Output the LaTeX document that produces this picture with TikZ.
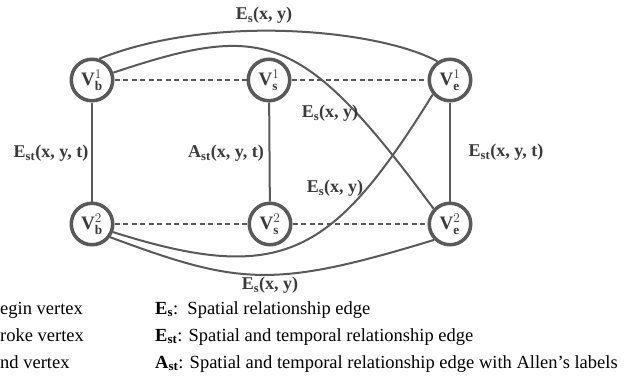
\documentclass[tikz,border=0pt]{standalone}
\usepackage{fix-cm}
\usepackage{fontspec}
\setmainfont{Liberation Serif}
\definecolor{linecol}{HTML}{595959}
\definecolor{labcol}{HTML}{3A3A3A}
\begin{document}
\begin{tikzpicture}[x=1pt,y=-1pt,
  vtx/.style={circle, draw=linecol, line width=3.5pt, minimum size=41.5pt, inner sep=0pt, fill=white,
              font=\fontsize{19}{22}\selectfont, text=labcol},
  edgeline/.style={draw=linecol, line width=2pt},
  dsh/.style={draw=linecol, line width=1.2pt, dash pattern=on 5pt off 3.5pt},
  lab/.style={font=\fontsize{18}{21}\selectfont\bfseries, text=labcol, inner sep=0pt},
  leg/.style={font=\fontsize{18.5}{22}\selectfont, anchor=base west, inner sep=0pt, text=black}]
\useasboundingbox (0,0) rectangle (637,378);

% vertices
\node[vtx] (Vb1) at (92,80)  {$\mathbf{V}^{1}_{\mathbf{b}}$};
\node[vtx] (Vs1) at (269,80) {$\mathbf{V}^{1}_{\mathbf{s}}$};
\node[vtx] (Ve1) at (450,80) {$\mathbf{V}^{1}_{\mathbf{e}}$};
\node[vtx] (Vb2) at (92,224)  {$\mathbf{V}^{2}_{\mathbf{b}}$};
\node[vtx] (Vs2) at (270,224) {$\mathbf{V}^{2}_{\mathbf{s}}$};
\node[vtx] (Ve2) at (450,224) {$\mathbf{V}^{2}_{\mathbf{e}}$};

% dashed links
\draw[dsh] (Vb1) -- (Vs1);
\draw[dsh] (Vs1) -- (Ve1);
\draw[dsh] (Vb2) -- (Vs2);
\draw[dsh] (Vs2) -- (Ve2);

% vertical links
\draw[edgeline] (Vb1) -- (Vb2);
\draw[edgeline] (Vs1) -- (Vs2);
\draw[edgeline] (Ve1) -- (Ve2);

% curved spatial edges
\draw[edgeline] (Vb1.71) .. controls (214,13) and (380,30) .. (Ve1.124);
\draw[edgeline] (Vb1.19) .. controls (265,22) and (302,31) .. (Ve2.137);
\draw[edgeline] (Ve1.220) .. controls (333,255) and (283,286) .. (Vb2.339);
\draw[edgeline] (Vb2.324) .. controls (239,285) and (273,289) .. (Ve2.225);

% edge labels
\node[lab] (lt)  at (264,15)  {E\textsubscript{s}(x, y)};
\node[lab] (lm1) at (330,113) {E\textsubscript{s}(x, y)};
\node[lab] (lm2) at (335,188) {E\textsubscript{s}(x, y)};
\node[lab] (lb)  at (270,285) {E\textsubscript{s}(x, y)};
\node[lab] (lvl) at (51,153)  {E\textsubscript{st}(x, y, t)};
\node[lab] (lvm) at (226,153) {A\textsubscript{st}(x, y, t)};
\node[lab] (lvr) at (506,152) {E\textsubscript{st}(x, y, t)};

% legend
\node[leg] (g1) at (0,314) {egin vertex};
\node[leg] (g2) at (0,341) {roke vertex};
\node[leg] (g3) at (0,368) {nd vertex};
\node[leg] (h1) at (155,314) {\textbf{E\textsubscript{s}}:\ \ Spatial relationship edge};
\node[leg] (h2) at (155,341) {\textbf{E\textsubscript{st}}: Spatial and temporal relationship edge};
\node[leg] (h3) at (155,368) {\textbf{A\textsubscript{st}}: Spatial and temporal relationship edge with Allen’s labels};
\end{tikzpicture}
\end{document}
